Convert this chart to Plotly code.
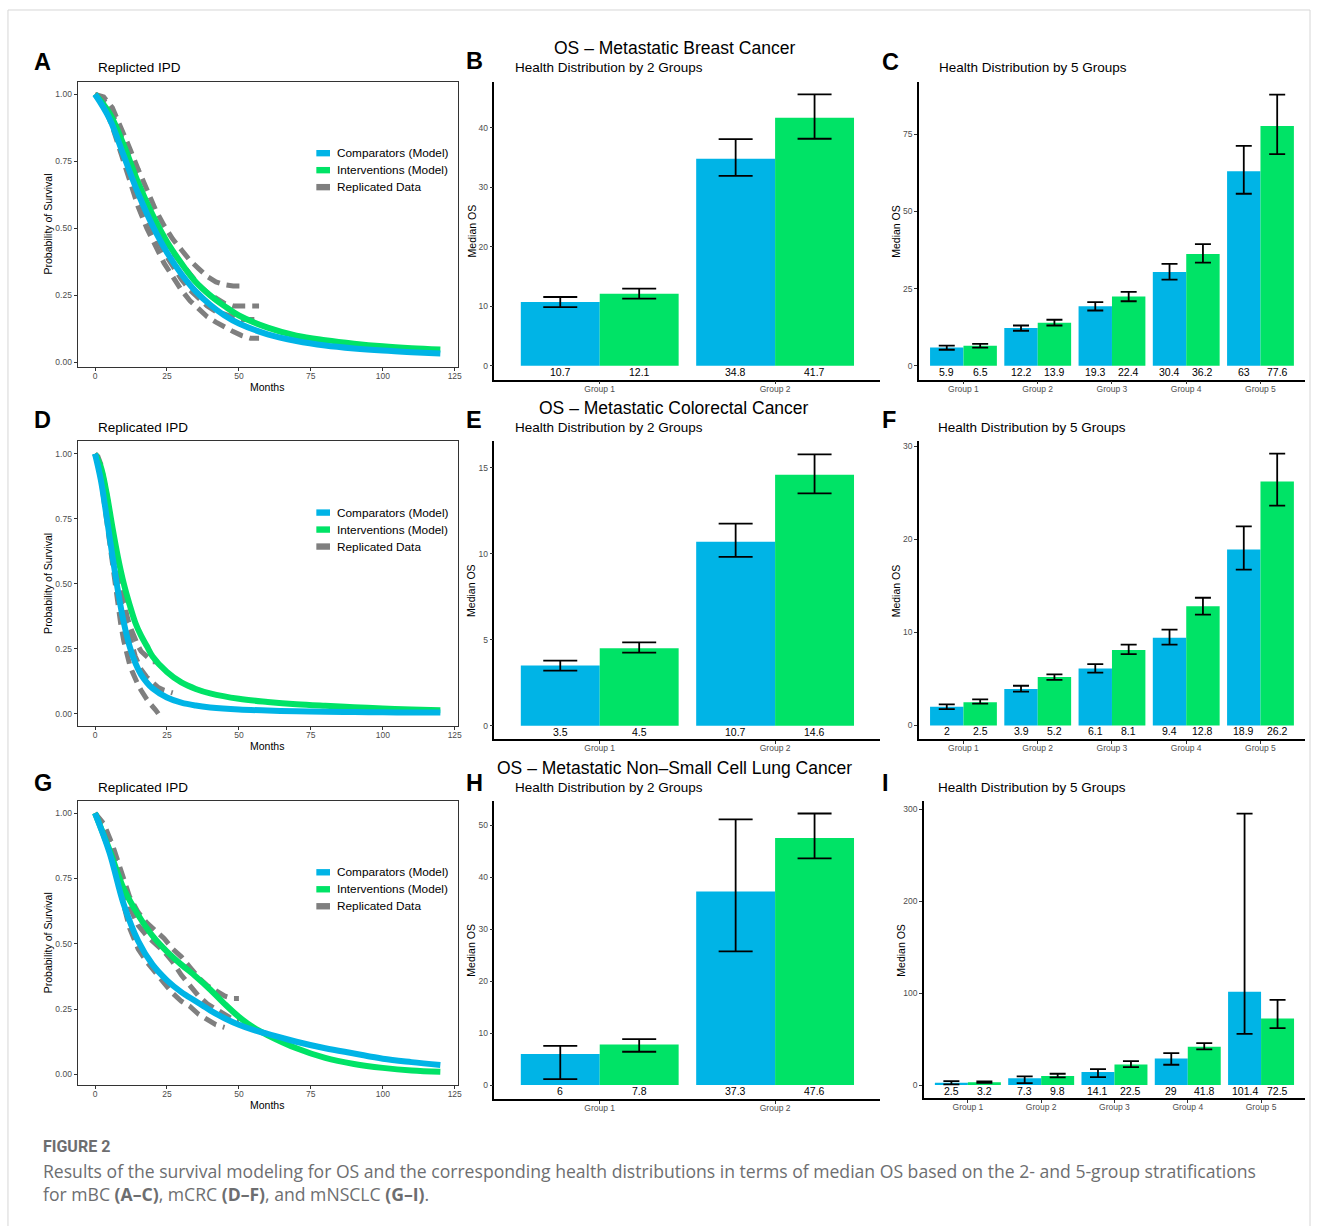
import plotly.graph_objects as go

W, H = 1322, 1227
FONT = "Liberation Sans, Arial, sans-serif"
BLUE = "#00B4E6"
GREEN = "#00E366"
GRAY = "#7F7F7F"


def px(x):
    return x / W


def py(y):
    return 1 - y / H


# ---------------- survival model curves ----------------
A_months = [0, 5, 10, 15, 20, 25, 30, 35, 40, 45, 50, 60, 70, 80, 90, 100, 110, 120]
A_comp = [1.0, 0.91, 0.77, 0.63, 0.51, 0.41, 0.33, 0.265, 0.215, 0.175, 0.145, 0.105, 0.08, 0.063, 0.052, 0.044, 0.038, 0.033]
A_int = [1.0, 0.93, 0.81, 0.67, 0.55, 0.45, 0.37, 0.30, 0.25, 0.21, 0.175, 0.13, 0.10, 0.083, 0.07, 0.06, 0.053, 0.048]

D_months = [0, 2, 4, 6, 8, 10, 12, 14, 16, 18, 20, 25, 30, 35, 40, 50, 60, 70, 80, 90, 100, 110, 120]
D_comp = [1.0, 0.9, 0.76, 0.61, 0.47, 0.35, 0.26, 0.195, 0.15, 0.12, 0.097, 0.062, 0.042, 0.031, 0.024, 0.016, 0.012, 0.009, 0.007, 0.006, 0.005, 0.004, 0.004]
D_int = [1.0, 0.95, 0.85, 0.72, 0.6, 0.5, 0.42, 0.35, 0.3, 0.26, 0.22, 0.16, 0.12, 0.095, 0.078, 0.057, 0.045, 0.036, 0.03, 0.025, 0.02, 0.016, 0.013]

G_months = [0, 5, 10, 15, 20, 25, 30, 35, 40, 45, 50, 55, 60, 70, 80, 90, 100, 110, 120]
G_comp = [1.0, 0.85, 0.65, 0.51, 0.42, 0.36, 0.315, 0.28, 0.245, 0.215, 0.19, 0.17, 0.155, 0.125, 0.1, 0.08, 0.06, 0.047, 0.036]
G_int = [1.0, 0.86, 0.71, 0.61, 0.53, 0.47, 0.42, 0.375, 0.325, 0.27, 0.22, 0.18, 0.15, 0.1, 0.063, 0.04, 0.025, 0.015, 0.01]

# ---------------- replicated IPD ----------------
A_rep_m = [0, 3, 6, 9, 12, 15, 18, 21, 24, 27, 30, 33, 36, 39, 42, 45, 48, 51, 54, 57]
A_rep1_s = [1, 0.96, 0.88, 0.78, 0.68, 0.58, 0.5, 0.43, 0.37, 0.32, 0.27, 0.23, 0.2, 0.17, 0.15, 0.13, 0.115, 0.1, 0.09, 0.09]
A_rep2_s = [1, 0.97, 0.9, 0.81, 0.71, 0.62, 0.54, 0.47, 0.41, 0.36, 0.31, 0.27, 0.24, 0.21, 0.19, 0.18, 0.17, 0.16, 0.16, 0.16]
A_rep3_s = [1, 0.98, 0.93, 0.85, 0.76, 0.67, 0.59, 0.52, 0.46, 0.41, 0.37, 0.33, 0.29, 0.26, 0.24, 0.22, 0.21, 0.21, 0.21, 0.21]
A_rep4_m = [0, 3, 6, 9, 12, 15, 18, 21, 24, 27, 30, 33, 36, 39, 42, 45, 48, 51]
A_rep4_s = [1, 0.99, 0.95, 0.88, 0.8, 0.72, 0.64, 0.57, 0.51, 0.46, 0.42, 0.38, 0.35, 0.32, 0.3, 0.29, 0.285, 0.285]

D_rep_m = [0, 1, 2, 3, 4, 5, 6, 7, 8, 9, 10, 11, 12, 13, 14, 15, 16, 17, 18, 19, 20, 21, 22]
D_rep1_s = [1, 0.97, 0.91, 0.83, 0.74, 0.65, 0.56, 0.48, 0.41, 0.34, 0.28, 0.23, 0.19, 0.16, 0.13, 0.11, 0.09, 0.07, 0.055, 0.04, 0.03, 0.015, 0.0]
D_rep2_s = [1, 0.99, 0.96, 0.91, 0.85, 0.78, 0.71, 0.63, 0.56, 0.49, 0.43, 0.38, 0.34, 0.31, 0.28, 0.26, 0.24, 0.23, 0.22, 0.21, 0.2, 0.2, 0.2]
D_rep3_m = [0, 2, 4, 6, 8, 10, 12, 14, 16, 18, 20, 22, 24, 26, 27]
D_rep3_s = [1, 0.93, 0.8, 0.64, 0.5, 0.38, 0.29, 0.22, 0.17, 0.14, 0.12, 0.1, 0.09, 0.08, 0.08]

G_rep1_m = [0, 3, 6, 9, 12, 15, 18, 21, 24, 27, 30, 33, 36, 39, 42, 45]
G_rep1_s = [1, 0.92, 0.82, 0.69, 0.56, 0.48, 0.43, 0.39, 0.35, 0.31, 0.28, 0.26, 0.23, 0.21, 0.19, 0.18]
G_rep_m = [0, 3, 6, 9, 12, 15, 18, 21, 24, 27, 30, 33, 36, 39, 42, 45, 48, 50]
G_rep2_s = [1, 0.95, 0.86, 0.74, 0.64, 0.57, 0.53, 0.5, 0.47, 0.43, 0.38, 0.34, 0.3, 0.27, 0.25, 0.23, 0.21, 0.21]
G_rep3_s = [1, 0.96, 0.88, 0.78, 0.68, 0.62, 0.58, 0.55, 0.52, 0.48, 0.45, 0.41, 0.37, 0.34, 0.32, 0.3, 0.29, 0.29]

# ---------------- health distributions (median OS) ----------------
groups2 = ["Group 1", "Group 2"]
groups5 = ["Group 1", "Group 2", "Group 3", "Group 4", "Group 5"]

B_comp = [10.7, 34.8]
B_comp_lo = [9.86, 31.9]
B_comp_hi = [11.55, 38.1]
B_int = [12.1, 41.7]
B_int_lo = [11.26, 38.15]
B_int_hi = [12.94, 45.6]

C_comp = [5.9, 12.2, 19.3, 30.4, 63]
C_comp_lo = [5.2, 11.35, 17.9, 27.9, 55.7]
C_comp_hi = [6.55, 13.05, 20.6, 33.0, 71.2]
C_int = [6.5, 13.9, 22.4, 36.2, 77.6]
C_int_lo = [5.85, 13.05, 20.9, 33.4, 68.5]
C_int_hi = [7.1, 14.9, 23.95, 39.4, 87.8]

E_comp = [3.5, 10.7]
E_comp_lo = [3.2, 9.82]
E_comp_hi = [3.78, 11.76]
E_int = [4.5, 14.6]
E_int_lo = [4.25, 13.52]
E_int_hi = [4.85, 15.79]

F_comp = [2, 3.9, 6.1, 9.4, 18.9]
F_comp_lo = [1.75, 3.62, 5.66, 8.67, 16.72]
F_comp_hi = [2.26, 4.26, 6.59, 10.28, 21.37]
F_int = [2.5, 5.2, 8.1, 12.8, 26.2]
F_int_lo = [2.33, 4.9, 7.66, 11.89, 23.6]
F_int_hi = [2.79, 5.48, 8.67, 13.71, 29.18]

H_comp = [6, 37.3]
H_comp_lo = [1.16, 25.74]
H_comp_hi = [7.57, 51.16]
H_int = [7.8, 47.6]
H_int_lo = [6.42, 43.65]
H_int_hi = [8.86, 52.3]

I_comp = [2.5, 7.3, 14.1, 29, 101.4]
I_comp_lo = [0.8, 2.2, 8.7, 22.1, 55.8]
I_comp_hi = [4.2, 9.4, 17.4, 34.8, 295.3]
I_int = [3.2, 9.8, 22.5, 41.8, 72.5]
I_int_lo = [2.5, 8.3, 19.6, 38.8, 62.0]
I_int_hi = [4.0, 12.3, 26.1, 45.7, 92.8]

# panel boxes in page pixels (left, top, right, bottom)
boxes = {
    1: (78, 82, 459, 367),
    2: (496, 82, 883, 380),
    3: (921.7, 82, 1309, 380),
    4: (78, 441.7, 459, 726.7),
    5: (496, 441.7, 883, 740),
    6: (921.7, 441.7, 1309, 740),
    7: (78, 801.7, 459, 1086),
    8: (496, 801.7, 883, 1100),
    9: (926.7, 801.7, 1309, 1099.3),
}

fig = go.Figure()
annotations = []
shapes = []


def ann(text, x, y, size, xanchor="left", yanchor="middle", color="black", angle=0, xref="paper", yref="paper",
        yshift=0, family=FONT):
    if xref == "paper":
        x = px(x)
    if yref == "paper":
        y = py(y)
    annotations.append(dict(text=text, x=x, y=y, xref=xref, yref=yref, xanchor=xanchor, yanchor=yanchor,
                            showarrow=False, textangle=angle, yshift=yshift,
                            font=dict(family=family, size=size, color=color)))


def axref(i):
    return ("x" if i == 1 else f"x{i}"), ("y" if i == 1 else f"y{i}")


layout_axes = {}


def surv_panel(i, months, comp, inter, reps, yrange, title):
    xa, ya = axref(i)
    for m, s in reps:
        fig.add_trace(go.Scatter(x=m, y=s, mode="lines", line=dict(color=GRAY, width=5, dash="13px,7px"),
                                 xaxis=xa, yaxis=ya, showlegend=False, hoverinfo="skip"))
    fig.add_trace(go.Scatter(x=months, y=inter, mode="lines", line=dict(color=GREEN, width=6, shape="spline", smoothing=1.0),
                             xaxis=xa, yaxis=ya, showlegend=False))
    fig.add_trace(go.Scatter(x=months, y=comp, mode="lines", line=dict(color=BLUE, width=6, shape="spline", smoothing=1.0),
                             xaxis=xa, yaxis=ya, showlegend=False))
    l, t, r, b = boxes[i]
    common = dict(showgrid=False, zeroline=False, showline=True, mirror=True, linecolor="#333333", linewidth=1.3,
                  ticks="outside", ticklen=3, tickwidth=1, tickcolor="#333333",
                  tickfont=dict(family=FONT, size=8.5, color="#4D4D4D"))
    layout_axes["xaxis" if i == 1 else f"xaxis{i}"] = dict(
        domain=[px(l), px(r)], anchor=ya, range=[-6, 126], tickvals=[0, 25, 50, 75, 100, 125],
        ticklabelstandoff=-2, **common)
    layout_axes["yaxis" if i == 1 else f"yaxis{i}"] = dict(
        domain=[py(b), py(t)], anchor=xa, range=yrange, tickvals=[0, 0.25, 0.5, 0.75, 1.0], tickformat=".2f", **common)
    ann(title, l + 18, t - 14, 13.5)
    ann("Months", (l + r) / 2 - 0.5, b + 20, 10.5, xanchor="center")
    ann("Probability of Survival", 48.3, (t + b) / 2, 10.5, xanchor="center", angle=-90)
    labels = ["Comparators (Model)", "Interventions (Model)", "Replicated Data"]
    cols = [BLUE, GREEN, GRAY]
    for k, (lab, c) in enumerate(zip(labels, cols)):
        yc = t + 71.3 + 17 * k
        shapes.append(dict(type="rect", xref="paper", yref="paper", x0=px(317.3), x1=px(331), y0=py(yc - 3.2), y1=py(yc + 3.2),
                           fillcolor=c, line=dict(width=0)))
        ann(lab, 336.5, yc, 11.8)


def bar_panel(i, cats, comp, comp_lo, comp_hi, inter, inter_lo, inter_hi, yrange, ytickvals, subtitle, capw, sub_x):
    xa, ya = axref(i)
    pos = list(range(1, len(cats) + 1))
    fig.add_trace(go.Bar(x=pos, y=comp, width=0.45, offset=-0.45, marker=dict(color=BLUE, line=dict(width=0)),
                         error_y=dict(type="data", symmetric=False,
                                      array=[h - v for h, v in zip(comp_hi, comp)],
                                      arrayminus=[v - lo for v, lo in zip(comp, comp_lo)],
                                      color="black", thickness=1.8, width=capw),
                         xaxis=xa, yaxis=ya, showlegend=False))
    fig.add_trace(go.Bar(x=pos, y=inter, width=0.45, offset=0, marker=dict(color=GREEN, line=dict(width=0)),
                         error_y=dict(type="data", symmetric=False,
                                      array=[h - v for h, v in zip(inter_hi, inter)],
                                      arrayminus=[v - lo for v, lo in zip(inter, inter_lo)],
                                      color="black", thickness=1.8, width=capw),
                         xaxis=xa, yaxis=ya, showlegend=False))
    for p, v in zip(pos, comp):
        ann(f"{v:g}", p - 0.225, 0, 10.5, xanchor="center", yanchor="top", xref=xa, yref=ya, yshift=2)
    for p, v in zip(pos, inter):
        ann(f"{v:g}", p + 0.225, 0, 10.5, xanchor="center", yanchor="top", xref=xa, yref=ya, yshift=2)
    l, t, r, b = boxes[i]
    common = dict(showgrid=False, zeroline=False, showline=True, mirror=False, linecolor="black", linewidth=1.5,
                  ticks="outside", ticklen=3, tickwidth=1, tickcolor="#333333",
                  tickfont=dict(family=FONT, size=8.5, color="#4D4D4D"))
    layout_axes["xaxis" if i == 1 else f"xaxis{i}"] = dict(
        domain=[px(l), px(r)], anchor=ya, range=[0.4, len(cats) + 0.6], tickvals=pos, ticktext=cats,
        ticklabelstandoff=-3, **common)
    layout_axes["yaxis" if i == 1 else f"yaxis{i}"] = dict(
        domain=[py(b), py(t)], anchor=xa, range=yrange, tickvals=ytickvals, **common)
    ann(subtitle, sub_x, t - 14, 13.5)
    ann("Median OS", l - 23, (t + b) / 2, 10.5, xanchor="center", angle=-90)


surv_panel(1, A_months, A_comp, A_int,
           [(A_rep_m, A_rep1_s), (A_rep_m, A_rep2_s), (A_rep_m, A_rep3_s), (A_rep4_m, A_rep4_s)],
           [-0.016, 1.046], "Replicted IPD")
surv_panel(4, D_months, D_comp, D_int,
           [(D_rep_m, D_rep1_s), (D_rep_m, D_rep2_s), (D_rep3_m, D_rep3_s)],
           [-0.048, 1.048], "Replicated IPD")
surv_panel(7, G_months, G_comp, G_int,
           [(G_rep1_m, G_rep1_s), (G_rep_m, G_rep2_s), (G_rep_m, G_rep3_s)],
           [-0.041, 1.046], "Replicated IPD")

bar_panel(2, groups2, B_comp, B_comp_lo, B_comp_hi, B_int, B_int_lo, B_int_hi,
          [-2.35, 47.7], [0, 10, 20, 30, 40], "Health Distribution by 2 Groups", 17, 514.3)
bar_panel(3, groups5, C_comp, C_comp_lo, C_comp_hi, C_int, C_int_lo, C_int_hi,
          [-4.5, 91.9], [0, 25, 50, 75], "Health Distribution by 5 Groups", 8, 940)
bar_panel(5, groups2, E_comp, E_comp_lo, E_comp_hi, E_int, E_int_lo, E_int_hi,
          [-0.8, 16.55], [0, 5, 10, 15], "Health Distribution by 2 Groups", 17, 514.3)
bar_panel(6, groups5, F_comp, F_comp_lo, F_comp_hi, F_int, F_int_lo, F_int_hi,
          [-1.5, 30.5], [0, 10, 20, 30], "Health Distribution by 5 Groups", 8, 939.3)
bar_panel(8, groups2, H_comp, H_comp_lo, H_comp_hi, H_int, H_int_lo, H_int_hi,
          [-2.7, 54.7], [0, 10, 20, 30, 40, 50], "Health Distribution by 2 Groups", 17, 515)
bar_panel(9, groups5, I_comp, I_comp_lo, I_comp_hi, I_int, I_int_lo, I_int_hi,
          [-14.5, 309], [0, 100, 200, 300], "Health Distribution by 5 Groups", 8, 939.3)

ann("OS \u2013 Metastatic Breast Cancer", 676.7, 48.3, 17.5, xanchor="center")
ann("OS \u2013 Metastatic Colorectal Cancer", 676, 408.3, 17.5, xanchor="center")
ann("OS \u2013 Metastatic Non\u2013Small Cell Lung Cancer", 676.7, 768.3, 17.5, xanchor="center")

for letter, (x, y) in {"A": (32.5, 61.7), "B": (465.5, 60.7), "C": (882.5, 61.7),
                       "D": (32.5, 420), "E": (465.5, 420), "F": (882.5, 420),
                       "G": (32.5, 784), "H": (465.5, 783.3), "I": (883, 784)}.items():
    ann(f"<b>{letter}</b>", x, y, 23.5)

CAP = "#6D6E70"
ann("<b>FIGURE 2</b>", 41, 1147, 16, color=CAP, family="Roboto")
ann("Results of the survival modeling for OS and the corresponding health distributions in terms of median OS based on the 2- and 5-group stratifications",
    41, 1172, 17.6, color=CAP, family="Open Sans")
ann("for mBC <b>(A\u2013C)</b>, mCRC <b>(D\u2013F)</b>, and mNSCLC <b>(G\u2013I)</b>.",
    41, 1195, 17.6, color=CAP, family="Open Sans")

FR = "#D6D6D6"
shapes.append(dict(type="line", xref="paper", yref="paper", x0=px(8), x1=px(1314), y0=py(10), y1=py(10), line=dict(color=FR, width=1)))
shapes.append(dict(type="line", xref="paper", yref="paper", x0=px(8), x1=px(8), y0=py(10), y1=0, line=dict(color=FR, width=1)))
shapes.append(dict(type="line", xref="paper", yref="paper", x0=px(1314), x1=px(1314), y0=py(10), y1=0, line=dict(color=FR, width=1)))

fig.update_layout(width=W, height=H, margin=dict(l=0, r=0, t=0, b=0),
                  paper_bgcolor="white", plot_bgcolor="white", showlegend=False,
                  font=dict(family=FONT), annotations=annotations, shapes=shapes, **layout_axes)

fig.write_html("out.html")
